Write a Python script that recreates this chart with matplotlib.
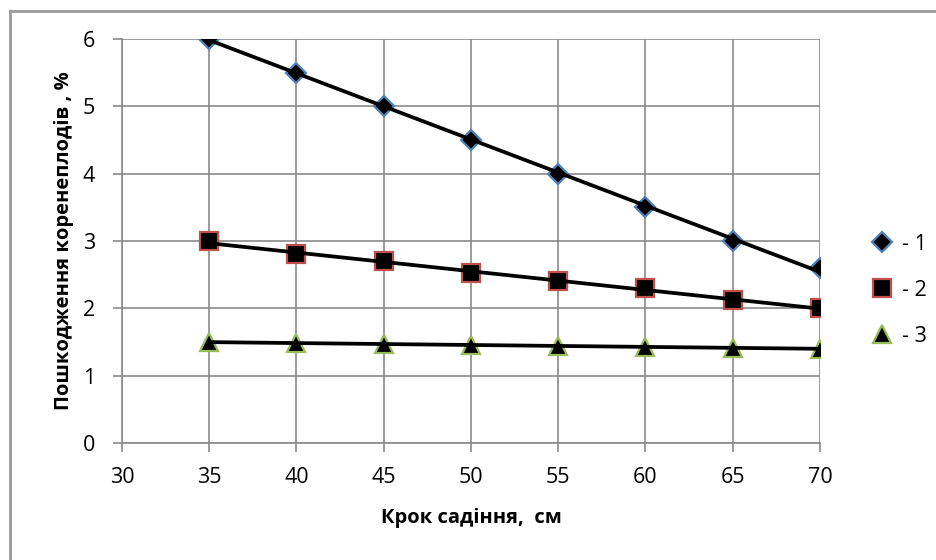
import numpy as np
import matplotlib
matplotlib.use("Agg")
import matplotlib.pyplot as plt
from matplotlib.lines import Line2D

plt.rcParams['font.family'] = ['Open Sans', 'DejaVu Sans']

# Data
step = [35, 40, 45, 50, 55, 60, 65, 70]           # Крок садіння, см
damage1 = [6.0, 5.5, 5.0, 4.5, 4.0, 3.5, 3.0, 2.6]
damage2 = [3.0, 2.8, 2.7, 2.52, 2.4, 2.3, 2.13, 2.0]
damage3 = [1.5, 1.48, 1.47, 1.46, 1.44, 1.43, 1.41, 1.4]
labels = ["- 1", "- 2", "- 3"]

fig = plt.figure(figsize=(9.36, 5.6), dpi=100)
ax = fig.add_axes([0.1303, 0.2089, 0.7457, 0.7215])

grid_c = "#8a8a8a"
styles = [("D", "#4F81BD", 10.5), ("s", "#C0504D", 12.5), ("^", "#9BBB59", 12.5)]
series = [damage1, damage2, damage3]

x = np.array(step)
for y, (m, ec, ms), lab in zip(series, styles, labels):
    ax.plot(x, y, ls="none", marker=m, ms=ms, mfc="black", mec=ec, mew=1.6,
            label=lab, zorder=3)
    # linear trend line as in Excel
    k, b = np.polyfit(x, y, 1)
    ax.plot(x, k * x + b, color="black", lw=2.7, zorder=4)

ax.set_xlim(30, 70)
ax.set_ylim(0, 6)
ax.set_xticks(np.arange(30, 71, 5))
ax.set_yticks(np.arange(0, 7, 1))
ax.grid(True, color=grid_c, lw=1.2)
ax.set_axisbelow(True)
for s in ["top", "right"]:
    ax.spines[s].set_visible(False)
for s in ["left", "bottom"]:
    ax.spines[s].set_color(grid_c)
    ax.spines[s].set_linewidth(1.2)
ax.tick_params(axis="both", direction="out", length=6.5, width=1.2, color=grid_c,
               labelsize=15.5)
ax.tick_params(axis="x", pad=11)
ax.tick_params(axis="y", pad=13)

ax.set_xlabel("Крок садіння,  см", fontsize=14.5, fontweight="bold", labelpad=14)
ax.set_ylabel("Пошкодження коренеплодів , %", fontsize=14.5, fontweight="bold",
              labelpad=6)

ax.legend(loc="center left", bbox_to_anchor=(1.04, 0.378), frameon=False,
          fontsize=15.5, handletextpad=0.2, labelspacing=1.15, handlelength=1.4)

# outer chart frame (left and top edges are visible)
fig.add_artist(Line2D([10 / 936, 10 / 936], [0, 1 - 11 / 560], color="#9a9a9a", lw=2))
fig.add_artist(Line2D([10 / 936, 1], [1 - 11 / 560, 1 - 11 / 560], color="#9a9a9a", lw=2))

fig.savefig("out.png", dpi=100)
